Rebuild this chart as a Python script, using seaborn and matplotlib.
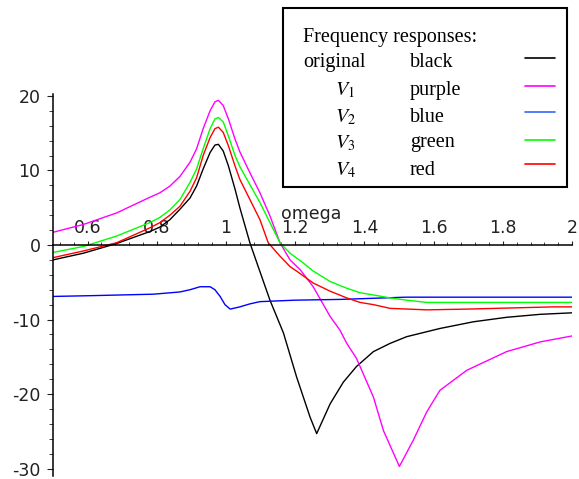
import pandas as pd
import matplotlib
matplotlib.use("Agg")
import matplotlib.pyplot as plt
import seaborn as sns
from matplotlib.patches import Rectangle
from matplotlib.ticker import FixedLocator, MultipleLocator, FuncFormatter

# values
orig_x = [0.50, 0.588, 0.684, 0.780, 0.809, 0.838, 0.867, 0.896, 0.915, 0.934, 0.954,
          0.968, 0.978, 0.992, 1.007, 1.026, 1.040, 1.069, 1.093, 1.127, 1.166, 1.204,
          1.243, 1.262, 1.301, 1.339, 1.377, 1.426, 1.474, 1.522, 1.618, 1.715, 1.811,
          1.908, 2.0]
orig_y = [-2.0, -1.1, 0.2, 1.8, 2.4, 3.4, 4.8, 6.3, 7.9, 10.2, 12.4,
          13.4, 13.5, 12.6, 10.6, 7.5, 5.0, 0.3, -2.9, -7.4, -11.8, -17.7,
          -23.1, -25.3, -21.3, -18.4, -16.3, -14.3, -13.2, -12.3, -11.2, -10.3, -9.7,
          -9.3, -9.1]

v1_x = [0.50, 0.588, 0.684, 0.780, 0.809, 0.838, 0.867, 0.896, 0.915, 0.934, 0.954,
        0.968, 0.978, 0.992, 1.007, 1.026, 1.040, 1.069, 1.098, 1.127, 1.156, 1.185,
        1.214, 1.252, 1.301, 1.329, 1.349, 1.377, 1.426, 1.455, 1.501, 1.541, 1.580,
        1.618, 1.696, 1.811, 1.908, 2.0]
v1_y = [1.7, 2.75, 4.3, 6.4, 7.0, 7.9, 9.2, 11.1, 12.9, 15.6, 18.0,
        19.2, 19.4, 18.7, 16.9, 14.2, 12.5, 9.7, 7.0, 3.9, 0.3, -2.0,
        -3.3, -5.6, -9.6, -11.4, -13.2, -15.2, -20.4, -24.9, -29.7, -26.2, -22.4,
        -19.5, -16.8, -14.3, -13.0, -12.2]

v2_x = [0.50, 0.608, 0.790, 0.867, 0.896, 0.925, 0.954, 0.968, 0.983, 0.997,
        1.012, 1.040, 1.069, 1.098, 1.200, 1.330, 1.520, 2.0]
v2_y = [-6.9, -6.8, -6.6, -6.3, -6.0, -5.6, -5.6, -6.0, -6.9, -8.0,
        -8.6, -8.3, -7.9, -7.6, -7.4, -7.3, -7.0, -7.0]

v3_x = [0.50, 0.588, 0.684, 0.780, 0.809, 0.838, 0.867, 0.896, 0.915, 0.934, 0.954,
        0.968, 0.978, 0.992, 1.007, 1.026, 1.040, 1.069, 1.098, 1.127, 1.156, 1.185,
        1.223, 1.252, 1.301, 1.349, 1.387, 1.426, 1.474, 1.522, 1.580, 2.0]
v3_y = [-1.0, -0.2, 1.2, 3.0, 3.7, 4.7, 6.1, 8.4, 10.2, 12.9, 15.6,
        16.9, 17.1, 16.5, 14.6, 12.0, 10.5, 8.1, 5.7, 3.0, 0.3, -1.1,
        -2.4, -3.5, -4.9, -5.8, -6.4, -6.7, -7.1, -7.4, -7.7, -7.7]

v4_x = [0.50, 0.588, 0.684, 0.780, 0.809, 0.838, 0.867, 0.896, 0.915, 0.934, 0.954,
        0.968, 0.978, 0.992, 1.007, 1.026, 1.040, 1.069, 1.098, 1.122, 1.156, 1.185,
        1.204, 1.252, 1.301, 1.349, 1.387, 1.426, 1.474, 1.580, 1.696, 1.946, 2.0]
v4_y = [-1.7, -0.8, 0.3, 2.3, 3.0, 4.0, 5.2, 7.2, 9.0, 12.0, 14.4,
        15.6, 15.8, 15.1, 13.3, 10.6, 8.8, 6.1, 3.4, 0.3, -1.5, -2.9,
        -3.5, -5.1, -6.2, -7.1, -7.7, -8.0, -8.5, -8.7, -8.6, -8.3, -8.3]

names = ["original", "V1", "V2", "V3", "V4"]
colors = {"original": "#000000", "V1": "#ff00ff", "V2": "#0000ff",
          "V3": "#00ff00", "V4": "#ff0000"}
legend_colors = ["#000000", "#ff00ff", "#3366ff", "#00ff00", "#ff0000"]
color_words = ["black", "purple", "blue", "green", "red"]
xticks = [0.6, 0.8, 1.0, 1.2, 1.4, 1.6, 1.8, 2.0]
yticks = [-30, -20, -10, 0, 10, 20]

frames = []
for nm, xs, ys in zip(names, [orig_x, v1_x, v2_x, v3_x, v4_x],
                      [orig_y, v1_y, v2_y, v3_y, v4_y]):
    frames.append(pd.DataFrame({"omega": xs, "resp": ys, "curve": nm}))
df = pd.concat(frames, ignore_index=True)

sns.set_style("white")
plt.rcParams["font.family"] = ["DejaVu Sans"]
plt.rcParams["axes.unicode_minus"] = False
plt.rcParams["mathtext.fontset"] = "stix"

fig = plt.figure(figsize=(5.79, 4.79), dpi=100)
ax = fig.add_axes([0.0915, 0.006, 0.8965, 0.797])

sns.lineplot(data=df, x="omega", y="resp", hue="curve", hue_order=names,
             palette=colors, estimator=None, sort=False, linewidth=1.0,
             legend=False, ax=ax)

ax.set_xlim(0.5, 2.0)
ax.set_ylim(-31, 20.2)
ax.set_xlabel("")
ax.set_ylabel("")

# Maple style axes: y axis at left, x axis through y=0
ax.spines["right"].set_visible(False)
ax.spines["bottom"].set_visible(False)
ax.spines["top"].set_position(("data", 0))
for s in ["top", "left"]:
    ax.spines[s].set_color("black")
    ax.spines[s].set_linewidth(1.1)
ax.xaxis.set_ticks_position("top")

ax.xaxis.set_major_locator(FixedLocator(xticks))
ax.xaxis.set_minor_locator(MultipleLocator(0.04))
ax.xaxis.set_major_formatter(FuncFormatter(lambda v, p: "%g" % v))
ax.yaxis.set_major_locator(FixedLocator(yticks))
ax.yaxis.set_minor_locator(MultipleLocator(2))
ax.yaxis.set_major_formatter(FuncFormatter(lambda v, p: "%g" % v))

ax.tick_params(axis="x", which="both", direction="out", top=True, bottom=False,
               labeltop=True, labelbottom=False, colors="#222222", labelsize=12.5)
ax.tick_params(axis="x", which="major", length=3, pad=3)
ax.tick_params(axis="x", which="minor", length=2)
ax.tick_params(axis="y", which="both", direction="out", left=True,
               colors="#222222", labelsize=12.5)
ax.tick_params(axis="y", which="major", length=4, pad=5)
ax.tick_params(axis="y", which="minor", length=3)

ax.text(1.159, 3.5, "omega", fontsize=12.5, color="#222222",
        ha="left", va="baseline")

# legend box drawn like the Maple text box
fig.add_artist(Rectangle((0.4888, 0.6096), 0.4905, 0.3737, transform=fig.transFigure,
                         facecolor="white", edgecolor="black", linewidth=1.5, zorder=5))
serif = dict(family="Liberation Serif", fontsize=14.5, color="black", zorder=6,
             va="center", ha="left")
fig.text(0.5233, 0.9207, "Frequency responses:", **serif)
row_y = [0.8685, 0.812, 0.7557, 0.7015, 0.645]
line_y = [0.879, 0.820, 0.766, 0.708, 0.658]
labels = ["original", "$V_1$", "$V_2$", "$V_3$", "$V_4$"]
for i in range(5):
    lx = 0.5233 if i == 0 else 0.5786
    fig.text(lx, row_y[i], labels[i], **serif)
    fig.text(0.708, row_y[i], color_words[i], **serif)
    fig.add_artist(plt.Line2D([0.9067, 0.9585], [line_y[i], line_y[i]],
                              transform=fig.transFigure, color=legend_colors[i],
                              linewidth=1.2, zorder=6))

fig.savefig("out.png", dpi=100)
